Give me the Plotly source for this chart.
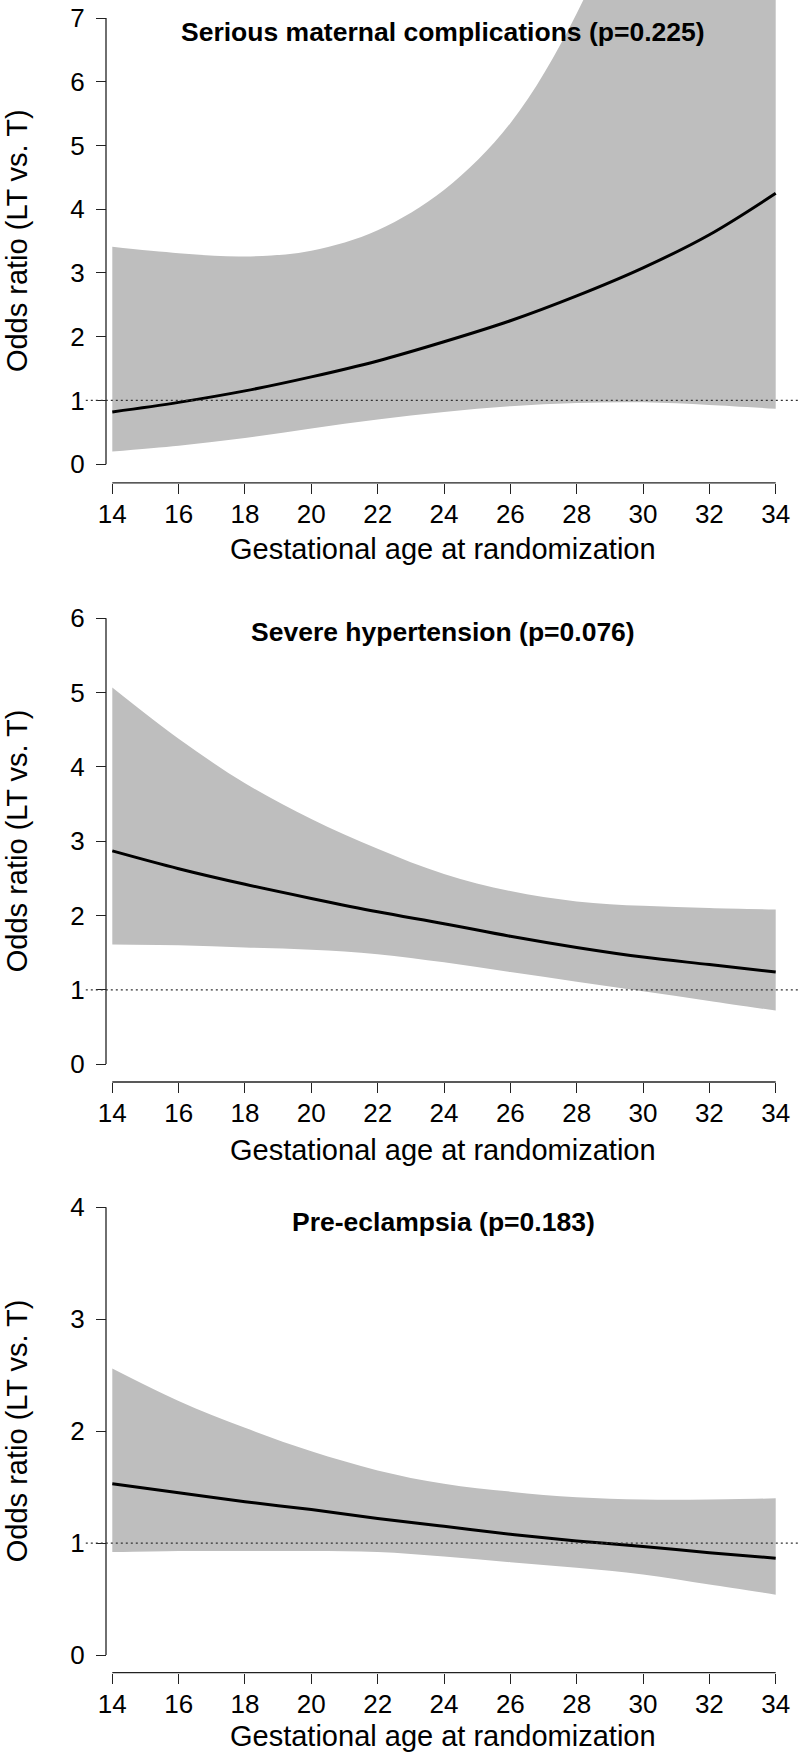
import plotly.graph_objects as go

# --- data ---------------------------------------------------------------------
weeks = [14, 16, 18, 20, 22, 24, 26, 28, 30, 32, 34]

smc_or    = [0.82, 0.97, 1.15, 1.37, 1.62, 1.92, 2.25, 2.64, 3.08, 3.60, 4.25]
smc_lower = [0.20, 0.29, 0.41, 0.56, 0.70, 0.82, 0.91, 0.96, 0.97, 0.93, 0.87]
smc_upper = [3.41, 3.31, 3.26, 3.35, 3.67, 4.30, 5.35, 7.07, 9.60, 13.0, 17.5]

sh_or    = [2.87, 2.63, 2.42, 2.23, 2.05, 1.89, 1.72, 1.57, 1.44, 1.34, 1.24]
sh_lower = [1.61, 1.60, 1.57, 1.54, 1.48, 1.37, 1.24, 1.11, 0.98, 0.85, 0.72]
sh_upper = [5.07, 4.38, 3.78, 3.30, 2.90, 2.56, 2.33, 2.19, 2.13, 2.10, 2.08]

pe_or    = [1.53, 1.45, 1.37, 1.30, 1.22, 1.15, 1.08, 1.02, 0.97, 0.915, 0.865]
pe_lower = [0.92, 0.93, 0.93, 0.93, 0.92, 0.88, 0.83, 0.78, 0.72, 0.63, 0.54]
pe_upper = [2.56, 2.27, 2.03, 1.82, 1.65, 1.53, 1.46, 1.41, 1.39, 1.39, 1.40]

titles = ["Serious maternal complications (p=0.225)",
          "Severe hypertension (p=0.076)",
          "Pre-eclampsia (p=0.183)"]
y_max_ticks = [7, 6, 4]
x_title = "Gestational age at randomization"
y_title = "Odds ratio (LT vs. T)"

# --- page geometry (pixels) ---------------------------------------------------
W, H = 800, 1755
FONT = "Liberation Sans, Arial, Helvetica, sans-serif"
BAND = "#bebebe"
INK = "#222222"

X14_PX, X34_PX = 112.3, 775.7          # pixel of week 14 and week 34
PX_PER_WEEK = (X34_PX - X14_PX) / 20
PLOT_LEFT_PX = 85.8
YAXIS_PX = 106

# (pixel of top tick, pixel of 0 tick, top of plot area, x-axis line)
panel_px = [
    (18.0, 464.2, 0.0, 482.9),
    (618.3, 1064.1, 600.0, 1082.0),
    (1207.3, 1655.1, 1189.0, 1672.6),
]
title_y_px = [32.5, 631.7, 1222.2]
xtitle_y_px = [549.0, 1150.0, 1736.0]
CENTER_X_PX = 443

series = [(smc_or, smc_lower, smc_upper),
          (sh_or, sh_lower, sh_upper),
          (pe_or, pe_lower, pe_upper)]


def py(px):
    return 1 - px / H


fig = go.Figure()
x_range = [weeks[0] - (X14_PX - PLOT_LEFT_PX) / PX_PER_WEEK,
           weeks[-1] + (W - X34_PX) / PX_PER_WEEK]

annotations = []
shapes = []
for i, (est, lo, hi) in enumerate(series):
    n = "" if i == 0 else str(i + 1)
    xa, ya = "x" + n, "y" + n
    top_px, zero_px, area_top, area_bot = panel_px[i]
    ymax = y_max_ticks[i]
    per_unit = (zero_px - top_px) / ymax
    y_range = [-(area_bot - zero_px) / per_unit, ymax + (top_px - area_top) / per_unit]

    fig.add_trace(go.Scatter(x=weeks, y=lo, mode="lines", line=dict(width=0, shape="spline"),
                             xaxis=xa, yaxis=ya, showlegend=False, hoverinfo="skip"))
    fig.add_trace(go.Scatter(x=weeks, y=hi, mode="lines", line=dict(width=0, shape="spline"),
                             fill="tonexty", fillcolor=BAND,
                             xaxis=xa, yaxis=ya, showlegend=False, hoverinfo="skip"))
    fig.add_trace(go.Scatter(x=weeks, y=est, mode="lines",
                             line=dict(color="black", width=3, shape="spline"),
                             xaxis=xa, yaxis=ya, showlegend=False))

    common = dict(ticks="outside", ticklen=10, tickwidth=1.3, tickcolor=INK,
                  showgrid=False, zeroline=False, showline=False,
                  ticklabeloverflow="allow",
                  tickfont=dict(family=FONT, size=26, color="black"))
    fig.update_layout(**{
        "xaxis" + n: dict(domain=[PLOT_LEFT_PX / W, 1.0], range=x_range, anchor=ya,
                          tickvals=weeks, ticklabelstandoff=-2, **common),
        "yaxis" + n: dict(domain=[py(area_bot), py(area_top)], range=y_range,
                          anchor="free", position=YAXIS_PX / W,
                          tickvals=list(range(ymax + 1)), ticklabelstandoff=6, **common),
    })

    # R-style axis lines spanning only the tick range
    shapes.append(dict(type="line", xref="paper", yref=ya, x0=YAXIS_PX / W, x1=YAXIS_PX / W,
                       y0=0, y1=ymax, line=dict(color=INK, width=1.3)))
    shapes.append(dict(type="line", xref=xa, yref=ya + " domain", x0=weeks[0], x1=weeks[-1],
                       y0=0, y1=0, line=dict(color=INK, width=1.3)))
    # reference line at OR = 1
    shapes.append(dict(type="line", xref=xa + " domain", yref=ya, x0=0, x1=1, y0=1, y1=1,
                       line=dict(color="#333333", width=1.3, dash="2px,3px")))

    annotations.append(dict(text="<b>" + titles[i] + "</b>", xref="paper", yref="paper",
                            x=CENTER_X_PX / W, y=py(title_y_px[i]), showarrow=False,
                            xanchor="center", yanchor="middle",
                            font=dict(family=FONT, size=26.5, color="black")))
    annotations.append(dict(text=x_title, xref="paper", yref="paper",
                            x=CENTER_X_PX / W, y=py(xtitle_y_px[i]), showarrow=False,
                            xanchor="center", yanchor="middle",
                            font=dict(family=FONT, size=29, color="black")))
    annotations.append(dict(text=y_title, xref="paper", yref="paper", textangle=-90,
                            x=17 / W, y=py((top_px + zero_px) / 2), showarrow=False,
                            xanchor="center", yanchor="middle",
                            font=dict(family=FONT, size=29, color="black")))

fig.update_layout(width=W, height=H, margin=dict(l=0, r=0, t=0, b=0),
                  plot_bgcolor="white", paper_bgcolor="white",
                  annotations=annotations, shapes=shapes)

# the page's default body margin would push the fixed-size figure off the window
fig.write_html("out.html", config={"displayModeBar": False},
               post_script="document.body.style.margin='0';document.body.style.overflow='hidden';")
